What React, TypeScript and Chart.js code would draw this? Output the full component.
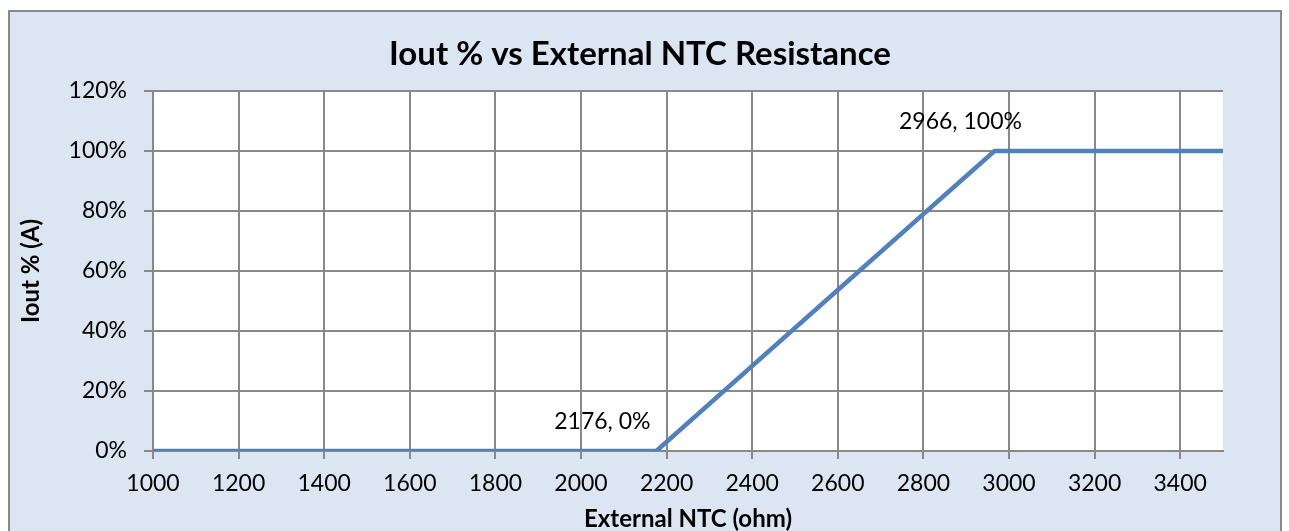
import React, { useEffect, useRef } from 'react';
import { Chart, registerables } from 'chart.js';

Chart.register(...registerables);

// ---- data ----
const resistanceOhm: number[] = [1000, 2176, 2966, 3500];
const ioutPercent: number[] = [0, 0, 100, 100];
const pointLabels: string[] = ['', '2176, 0%', '2966, 100%', ''];
const chartTitle = 'Iout % vs External NTC Resistance';
const xAxisTitle = 'External NTC (ohm)';
const yAxisTitle = 'Iout % (A)';
const xMin = 1000;
const xMax = 3500;
const xStep = 200;
const yMin = 0;
const yMax = 120;
const yStep = 20;

// ---- style ----
const FONT = 'Lato';
const labelOffsets: ({ dx: number; dy: number } | null)[] = [null, { dx: -54, dy: -29 }, { dx: -34, dy: -29 }, null];

const backgroundPlugin = {
  id: 'bgBox',
  beforeDraw(chart: any) {
    const { ctx, chartArea } = chart;
    ctx.save();
    ctx.fillStyle = '#DCE6F2';
    ctx.fillRect(9, 11, 1272, 540);
    ctx.strokeStyle = '#898989';
    ctx.lineWidth = 2;
    ctx.strokeRect(9, 11, 1272, 540);
    ctx.fillStyle = '#FFFFFF';
    ctx.fillRect(chartArea.left, chartArea.top, chartArea.right - chartArea.left, chartArea.bottom - chartArea.top);
    ctx.restore();
  },
};

const pointLabelPlugin = {
  id: 'pointLabels',
  afterDatasetsDraw(chart: any) {
    const { ctx } = chart;
    const meta = chart.getDatasetMeta(0);
    ctx.save();
    ctx.font = `23px ${FONT}`;
    ctx.fillStyle = '#000000';
    ctx.textAlign = 'center';
    ctx.textBaseline = 'middle';
    meta.data.forEach((el: any, i: number) => {
      const text = pointLabels[i];
      const off = labelOffsets[i];
      if (!text || !off) return;
      ctx.fillText(text, el.x + off.dx, el.y + off.dy);
    });
    ctx.restore();
  },
};

export default function App() {
  const canvasRef = useRef<HTMLCanvasElement | null>(null);

  useEffect(() => {
    document.body.style.margin = '0';
    const canvas = canvasRef.current;
    if (!canvas) return;
    const chart = new Chart(canvas, {
      type: 'line',
      data: {
        datasets: [
          {
            data: resistanceOhm.map((x, i) => ({ x, y: ioutPercent[i] })),
            borderColor: '#4F81BD',
            borderWidth: 4.5,
            pointRadius: 0,
            tension: 0,
            fill: false,
            yAxisID: 'y',
          },
        ],
      },
      options: {
        responsive: false,
        animation: false,
        devicePixelRatio: 1,
        layout: { padding: { left: 8, right: 17, top: 10, bottom: 0 } },
        plugins: {
          legend: { display: false },
          tooltip: { enabled: false },
          title: {
            display: true,
            text: chartTitle,
            color: '#000000',
            font: { family: FONT, size: 33, weight: 'bold', lineHeight: 1.2 },
            padding: { top: 25, bottom: 16.4 },
          },
        },
        scales: {
          x: {
            type: 'linear',
            min: xMin,
            max: xMax,
            afterFit(scale: any) {
              scale.height = 80;
            },
            ticks: {
              stepSize: xStep,
              includeBounds: false,
              color: '#000000',
              font: { family: FONT, size: 23 },
              padding: 11,
              maxRotation: 0,
              autoSkip: false,
              callback: (v: any) => String(v),
            },
            grid: { color: '#898989', lineWidth: 2, tickLength: 8, drawTicks: true },
            border: { color: '#898989', width: 2 },
            title: {
              display: true,
              text: xAxisTitle,
              color: '#000000',
              font: { family: FONT, size: 24, weight: 'bold', lineHeight: 1 },
              padding: { top: 0, bottom: 0 },
            },
          },
          y: {
            type: 'linear',
            position: 'left',
            min: yMin,
            max: yMax,
            afterFit(scale: any) {
              scale.width = 145;
            },
            ticks: {
              stepSize: yStep,
              color: '#000000',
              font: { family: FONT, size: 23 },
              padding: 17,
              callback: (v: any) => `${v}%`,
            },
            grid: { color: '#898989', lineWidth: 2, tickLength: 9, drawTicks: true },
            border: { color: '#898989', width: 2 },
            title: {
              display: true,
              text: yAxisTitle,
              color: '#000000',
              font: { family: FONT, size: 24, weight: 'bold', lineHeight: 1 },
              padding: { top: 11, bottom: 0 },
            },
          },
          yRightSpace: {
            type: 'linear',
            position: 'right',
            min: yMin,
            max: yMax,
            afterFit(scale: any) {
              scale.width = 49;
            },
            ticks: { display: false },
            grid: { display: false, drawTicks: false },
            border: { display: false },
          },
        },
      },
      plugins: [backgroundPlugin, pointLabelPlugin],
    } as any);
    return () => chart.destroy();
  }, []);

  return <canvas ref={canvasRef} width={1289} height={531} style={{ display: 'block' }} />;
}
